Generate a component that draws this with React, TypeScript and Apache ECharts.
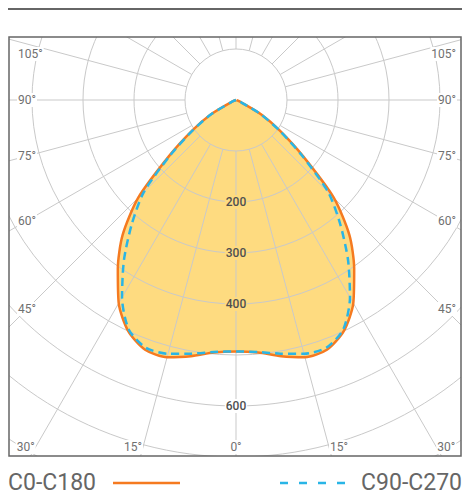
import React, { useEffect, useRef } from 'react';
import * as echarts from 'echarts';

// Gamma angles (degrees from nadir) and luminous intensity (cd) per C-plane half
const gammaDeg = [0, 5, 10, 15, 20, 25, 30, 35, 40, 45, 50, 55, 60, 65, 70, 75, 80, 85, 90];
const c0 = [493, 497, 510, 522, 521, 500, 460, 404, 346, 271, 172, 105, 58, 12, 4, 1, 0, 0, 0];
const c180 = [493, 497, 510, 522, 521, 500, 460, 404, 346, 271, 172, 105, 58, 12, 4, 1, 0, 0, 0];
const c90 = [493, 496, 505, 515, 517, 497, 447, 383, 318, 256, 168, 103, 57, 12, 4, 1, 0, 0, 0];
const c270 = [493, 496, 505, 515, 517, 497, 447, 383, 318, 256, 168, 103, 57, 12, 4, 1, 0, 0, 0];

const seriesNames = ['C0-C180', 'C90-C270'];
const radiusLabelValues = [200, 300, 400, 600];
const spokeAngles = [0, 15, 30, 45, 60, 75, 90, 105, 120, 135, 150, 165, 180, 195, 210, 225, 240, 255, 270, 285, 300, 315, 330, 345];
const sideAngleLabels = [45, 60, 75, 90, 105];
const bottomAngleLabels = [0, 15, 30];

const W = 462;
const H = 494;
const CX = 236;
const CY = 100;
const R = 408;
const RMAX = 800;
const FRAME = { x: 9, y: 37, w: 452, h: 419 };
const FILL = '#FEDB80';
const ORANGE = '#F57A20';
const BLUE = '#29B5E6';
const GRID = '#C9C9C9';

function planePoints(right: number[], left: number[]) {
  const pts: number[][] = [[0, 90]];
  for (let i = gammaDeg.length - 1; i >= 0; i--) {
    if (left[i] > 0) pts.push([left[i], gammaDeg[i]]);
  }
  for (let i = 1; i < gammaDeg.length; i++) {
    if (right[i] > 0) pts.push([right[i], 360 - gammaDeg[i]]);
  }
  pts.push([0, 270]);
  return pts;
}

function angleLabelElements() {
  const els: any[] = [];
  const base = { fontSize: 12, fontFamily: 'Roboto', fill: '#707070', backgroundColor: '#fff', padding: [1, 1], verticalAlign: 'middle' };
  const sideMidX = 27;
  sideAngleLabels.forEach((g) => {
    const rad = (g * Math.PI) / 180;
    const t = (CX - sideMidX) / Math.sin(rad);
    let y = CY + t * Math.cos(rad);
    if (y < 54) y = 54;
    els.push({ type: 'text', z: 110, style: { ...base, text: g + '°', x: 17, y, align: 'left' } });
    els.push({ type: 'text', z: 110, style: { ...base, text: g + '°', x: 457, y, align: 'right' } });
  });
  const by = 447;
  bottomAngleLabels.forEach((g) => {
    const rad = (g * Math.PI) / 180;
    const dx = (by - CY) * Math.tan(rad);
    if (g === 0) {
      els.push({ type: 'text', z: 110, style: { ...base, text: g + '°', x: CX, y: by, align: 'center' } });
    } else {
      els.push({ type: 'text', z: 110, style: { ...base, text: g + '°', x: CX - dx, y: by, align: 'right' } });
      els.push({ type: 'text', z: 110, style: { ...base, text: g + '°', x: CX + dx, y: by, align: 'left' } });
    }
  });
  return els;
}

export default function App() {
  const ref = useRef<HTMLDivElement>(null);
  useEffect(() => {
    if (!ref.current) return;
    document.body.style.margin = '0';
    document.body.style.overflow = 'hidden';
    const chart = echarts.init(ref.current, undefined, { renderer: 'svg' });
    const orangePts = planePoints(c0, c180);
    const bluePts = planePoints(c90, c270);
    const option: any = {
      animation: false,
      backgroundColor: '#fff',
      polar: { center: [CX, CY], radius: R },
      angleAxis: {
        type: 'value', min: 0, max: 360, startAngle: 270, clockwise: true,
        axisLine: { show: false }, axisTick: { show: false }, axisLabel: { show: false }, splitLine: { show: false },
      },
      radiusAxis: {
        type: 'value', min: 0, max: RMAX, interval: 100, z: 2,
        axisLine: { show: false }, axisTick: { show: false }, axisLabel: { show: false },
        splitLine: { show: true, lineStyle: { color: GRID, width: 1 } },
      },
      series: [
        {
          type: 'line', coordinateSystem: 'polar', name: 'fill', data: orangePts, smooth: 0.25,
          showSymbol: false, symbol: 'none', z: 1, lineStyle: { width: 0, opacity: 0 },
          areaStyle: { color: FILL, opacity: 1 },
        },
        {
          type: 'custom', coordinateSystem: 'polar', z: 2, silent: true,
          data: spokeAngles.map((a) => [900, a]),
          renderItem: (params: any, api: any) => {
            const a = api.value(1);
            const p1 = api.coord([100, a]);
            const p2 = api.coord([900, a]);
            return { type: 'line', shape: { x1: p1[0], y1: p1[1], x2: p2[0], y2: p2[1] }, style: { stroke: GRID, lineWidth: 1 } };
          },
        },
        {
          type: 'custom', coordinateSystem: 'polar', z: 3, silent: true,
          data: radiusLabelValues.map((v) => [v, 0]),
          renderItem: (params: any, api: any) => {
            const v = api.value(0);
            const p = api.coord([v, 0]);
            return {
              type: 'text', x: p[0], y: p[1],
              style: {
                text: String(v), x: 0, y: 0, align: 'center', verticalAlign: 'middle',
                fontSize: 12, fontWeight: 500, fontFamily: 'Roboto', fill: '#505050',
                backgroundColor: v < 500 ? FILL : '#fff', padding: [1, 1],
              },
            };
          },
        },
        {
          type: 'line', coordinateSystem: 'polar', name: seriesNames[0], data: orangePts, smooth: 0.25,
          showSymbol: false, symbol: 'none', z: 5, lineStyle: { color: ORANGE, width: 2.5 },
        },
        {
          type: 'line', coordinateSystem: 'polar', name: seriesNames[1], data: bluePts, smooth: 0.25,
          showSymbol: false, symbol: 'none', z: 6, lineStyle: { color: BLUE, width: 2.5, type: [8, 5] },
        },
      ],
      graphic: {
        elements: [
          { type: 'rect', z: 100, shape: { x: 0, y: 0, width: W, height: FRAME.y }, style: { fill: '#fff' } },
          { type: 'rect', z: 100, shape: { x: 0, y: FRAME.y + FRAME.h, width: W, height: H - FRAME.y - FRAME.h }, style: { fill: '#fff' } },
          { type: 'rect', z: 100, shape: { x: 0, y: 0, width: FRAME.x, height: H }, style: { fill: '#fff' } },
          { type: 'rect', z: 100, shape: { x: FRAME.x + FRAME.w, y: 0, width: W - FRAME.x - FRAME.w, height: H }, style: { fill: '#fff' } },
          { type: 'rect', z: 101, shape: { x: FRAME.x, y: FRAME.y, width: FRAME.w, height: FRAME.h }, style: { fill: 'none', stroke: '#666', lineWidth: 1.5 } },
          { type: 'rect', z: 101, shape: { x: 8, y: 8, width: W - 8, height: 2 }, style: { fill: '#666' } },
          ...angleLabelElements(),
          { type: 'text', z: 110, style: { text: seriesNames[0], x: 8, y: 482, align: 'left', verticalAlign: 'middle', fontSize: 23, fontFamily: 'Roboto', fill: '#666' } },
          { type: 'line', z: 110, shape: { x1: 113, y1: 483, x2: 180, y2: 483 }, style: { stroke: ORANGE, lineWidth: 2.5 } },
          { type: 'line', z: 110, shape: { x1: 280, y1: 483, x2: 348, y2: 483 }, style: { stroke: BLUE, lineWidth: 2.5, lineDash: [8, 11] } },
          { type: 'text', z: 110, style: { text: seriesNames[1], x: 462, y: 482, align: 'right', verticalAlign: 'middle', fontSize: 23, fontFamily: 'Roboto', fill: '#666' } },
        ],
      },
    };
    chart.setOption(option);
    return () => chart.dispose();
  }, []);
  return <div ref={ref} style={{ width: W, height: H }} />;
}
